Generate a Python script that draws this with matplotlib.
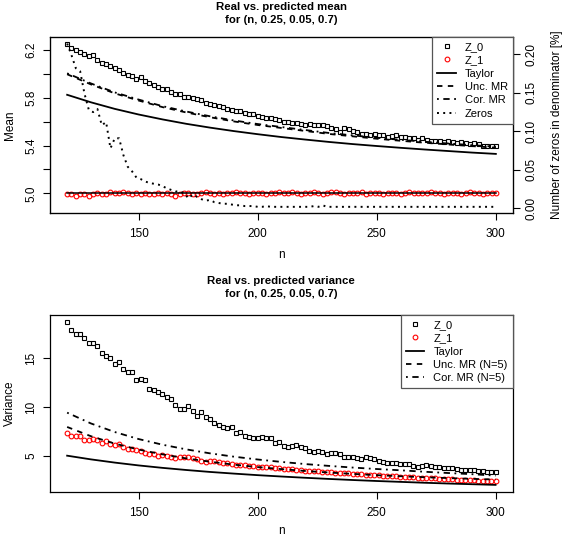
import matplotlib
matplotlib.use("Agg")
import matplotlib.pyplot as plt
import numpy as np

plt.rcParams['font.family'] = ['Liberation Sans', 'DejaVu Sans']

# x grid of the simulated points (100 values of n between 120 and 300)
n_pts = np.linspace(120, 300, 100)
# x grid of the smooth predicted curves
n_line = [120, 130, 140, 150, 160, 170, 180, 190, 200, 210,
          220, 230, 240, 250, 260, 270, 280, 290, 300]

# ---- top panel: mean ----
mean_z0 = [6.25, 6.22, 6.20, 6.18, 6.17, 6.15, 6.16, 6.12, 6.09, 6.08,
           6.07, 6.05, 6.03, 6.01, 5.99, 5.98, 5.96, 5.97, 5.94, 5.92,
           5.91, 5.89, 5.87, 5.87, 5.85, 5.83, 5.83, 5.81, 5.81, 5.80,
           5.79, 5.78, 5.76, 5.75, 5.74, 5.73, 5.72, 5.71, 5.70, 5.69,
           5.69, 5.67, 5.66, 5.66, 5.65, 5.64, 5.63, 5.63, 5.62, 5.61,
           5.60, 5.60, 5.59, 5.59, 5.58, 5.57, 5.58, 5.57, 5.57, 5.57,
           5.56, 5.55, 5.54, 5.51, 5.55, 5.54, 5.52, 5.51, 5.50, 5.50,
           5.49, 5.50, 5.49, 5.49, 5.47, 5.48, 5.49, 5.47, 5.47, 5.46,
           5.46, 5.45, 5.46, 5.45, 5.44, 5.44, 5.44, 5.43, 5.44, 5.43,
           5.42, 5.43, 5.42, 5.41, 5.42, 5.41, 5.40, 5.40, 5.40, 5.40]
mean_z1 = [4.99, 4.99, 4.98, 4.99, 4.99, 4.98, 4.99, 5.00, 4.99, 4.99,
           5.01, 5.00, 5.00, 5.01, 5.00, 4.99, 5.00, 4.99, 5.00, 4.99,
           4.99, 5.00, 4.99, 5.00, 4.99, 4.98, 4.99, 5.00, 5.00, 4.99,
           4.99, 5.00, 5.01, 5.00, 4.99, 5.00, 4.99, 5.00, 5.00, 5.01,
           5.00, 5.00, 4.99, 5.00, 5.00, 5.00, 4.99, 5.00, 5.00, 5.01,
           5.00, 5.00, 5.01, 5.00, 4.99, 5.00, 5.00, 5.01, 5.00, 4.99,
           5.00, 5.01, 5.01, 5.00, 4.99, 5.00, 5.00, 5.00, 5.01, 4.99,
           5.00, 5.00, 5.00, 4.99, 5.00, 5.00, 5.00, 4.99, 5.00, 5.01,
           5.00, 5.00, 5.00, 5.00, 5.01, 5.00, 5.00, 4.99, 5.00, 5.00,
           5.00, 4.99, 5.00, 5.01, 5.00, 5.00, 4.99, 5.00, 5.00, 5.00]
mean_taylor = [5.825, 5.762, 5.707, 5.660, 5.619, 5.582, 5.550, 5.521, 5.495, 5.471,
               5.450, 5.430, 5.412, 5.396, 5.381, 5.367, 5.354, 5.341, 5.330]
mean_unc = [5.997, 5.912, 5.837, 5.777, 5.722, 5.677, 5.637, 5.602, 5.572, 5.547,
            5.522, 5.497, 5.477, 5.457, 5.440, 5.424, 5.409, 5.395, 5.382]
mean_cor = [6.005, 5.920, 5.845, 5.785, 5.730, 5.685, 5.645, 5.610, 5.580, 5.555,
            5.530, 5.505, 5.485, 5.465, 5.448, 5.432, 5.417, 5.403, 5.390]
mean_z1_pred = [5.0] * len(n_line)
zeros_pct = [0.214, 0.199, 0.182, 0.178, 0.149, 0.128, 0.125, 0.129, 0.108, 0.112,
             0.078, 0.091, 0.091, 0.069, 0.054, 0.048, 0.040, 0.038, 0.035, 0.033,
             0.032, 0.031, 0.029, 0.026, 0.024, 0.022, 0.022, 0.020, 0.013, 0.018,
             0.015, 0.012, 0.010, 0.011, 0.008, 0.007, 0.006, 0.006, 0.005, 0.004,
             0.004, 0.003, 0.003, 0.003, 0.002, 0.002, 0.003, 0.002, 0.002, 0.002,
             0.002, 0.002, 0.002, 0.002, 0.002, 0.002, 0.002, 0.003, 0.002, 0.004,
             0.002, 0.002, 0.002, 0.002, 0.002, 0.002, 0.002, 0.002, 0.002, 0.002,
             0.002, 0.002, 0.002, 0.002, 0.002, 0.002, 0.002, 0.002, 0.002, 0.002,
             0.002, 0.002, 0.002, 0.002, 0.002, 0.002, 0.002, 0.002, 0.002, 0.002,
             0.002, 0.002, 0.002, 0.002, 0.002, 0.002, 0.002, 0.002, 0.002, 0.002]

# ---- bottom panel: variance ----
var_z0 = [18.76, 17.90, 17.50, 17.50, 17.05, 16.60, 16.60, 16.30, 15.50, 15.27,
          15.06, 14.40, 14.60, 13.90, 13.56, 13.56, 12.77, 12.87, 12.77, 11.90,
          11.75, 11.50, 11.30, 11.06, 10.80, 10.20, 9.76, 9.83, 10.13, 9.59,
          9.08, 9.52, 9.00, 8.74, 8.33, 8.15, 7.98, 7.81, 7.98, 7.36,
          7.43, 6.99, 6.95, 6.79, 6.85, 6.95, 6.79, 6.79, 6.27, 6.44,
          6.00, 5.93, 6.00, 6.10, 5.93, 5.76, 5.52, 5.41, 5.44, 5.41,
          5.17, 5.28, 5.24, 5.17, 4.90, 4.83, 4.90, 4.73, 4.63, 4.90,
          4.73, 4.63, 4.49, 4.38, 4.28, 4.22, 4.22, 4.15, 4.15, 4.15,
          3.94, 3.87, 3.94, 4.04, 3.95, 3.85, 3.80, 3.75, 3.70, 3.72,
          3.62, 3.58, 3.55, 3.50, 3.48, 3.42, 3.45, 3.35, 3.30, 3.30]
var_z1 = [7.30, 7.02, 7.00, 7.02, 6.62, 6.66, 6.70, 6.62, 6.27, 6.55,
          6.17, 6.10, 6.17, 5.93, 5.66, 5.66, 5.60, 5.52, 5.24, 5.20,
          5.17, 4.97, 5.10, 4.97, 4.83, 4.80, 4.90, 4.88, 4.85, 4.73,
          4.70, 4.49, 4.40, 4.45, 4.49, 4.30, 4.22, 4.20, 4.15, 4.05,
          4.05, 4.02, 3.98, 3.95, 3.87, 3.87, 3.85, 3.80, 3.78, 3.70,
          3.68, 3.63, 3.63, 3.53, 3.50, 3.45, 3.42, 3.40, 3.38, 3.33,
          3.30, 3.28, 3.25, 3.22, 3.18, 3.18, 3.12, 3.10, 3.08, 3.05,
          3.02, 3.00, 2.98, 2.95, 2.93, 2.90, 2.90, 2.85, 2.83, 2.80,
          2.80, 2.75, 2.73, 2.72, 2.68, 2.66, 2.65, 2.62, 2.60, 2.58,
          2.55, 2.55, 2.52, 2.50, 2.48, 2.45, 2.45, 2.40, 2.38, 2.35]
var_taylor = [5.00, 4.62, 4.29, 4.00, 3.75, 3.53, 3.33, 3.16, 3.00, 2.86,
              2.73, 2.61, 2.50, 2.40, 2.31, 2.22, 2.14, 2.07, 2.00]
var_unc = [7.95, 7.00, 6.24, 5.63, 5.14, 4.72, 4.38, 4.08, 3.83, 3.62,
           3.43, 3.27, 3.13, 3.00, 2.89, 2.79, 2.70, 2.62, 2.55]
var_cor = [9.42, 8.31, 7.43, 6.71, 6.13, 5.65, 5.24, 4.90, 4.61, 4.36,
           4.14, 3.95, 3.78, 3.63, 3.50, 3.35, 3.22, 3.10, 2.95]

DASHED = (3, 3)
DASHDOT = (1, 2.5, 3.5, 2.5)
DOTTED = (1, 2.2)
FS = 8.5


def style_axes(ax):
    ax.tick_params(direction='out', length=5, width=0.8, labelsize=FS)
    ax.tick_params(axis='x', pad=6)
    ax.tick_params(axis='y', labelrotation=90, pad=4)
    for lab in ax.get_yticklabels():
        lab.set_va('center')
    for sp in ax.spines.values():
        sp.set_linewidth(0.9)
    ax.set_xlim(112.8, 307.2)
    ax.set_xticks([150, 200, 250, 300])


def make_legend(ax, handles):
    leg = ax.legend(handles=handles, loc='upper right', fontsize=8,
                    frameon=True, fancybox=False, edgecolor='#555555', borderaxespad=0,
                    handlelength=1.7, handletextpad=0.8, labelspacing=0.3, borderpad=0.45,
                    framealpha=1)
    leg.get_frame().set_linewidth(0.9)
    return leg


fig = plt.figure(figsize=(5.66, 5.37), dpi=100)
ax1 = fig.add_axes([50 / 566, 1 - 213 / 537, 463 / 566, 176 / 537])
ax2 = fig.add_axes([50 / 566, 1 - 491.7 / 537, 462.7 / 566, 176.7 / 537])

mk = dict(ls='none', ms=3.4, mfc='none', mew=0.8)

# top panel
h0, = ax1.plot(n_pts, mean_z0, marker='s', mec='black', label='Z_0', **mk)
h1, = ax1.plot(n_pts, mean_z1, marker='o', mec='red', label='Z_1', **mk)
ht, = ax1.plot(n_line, mean_taylor, color='black', lw=1.3, label='Taylor')
hu, = ax1.plot(n_line, mean_unc, color='black', lw=1.3, dashes=DASHED, label='Unc. MR')
hc, = ax1.plot(n_line, mean_cor, color='black', lw=1.3, dashes=DASHDOT, label='Cor. MR')
ax1.plot(n_line, mean_z1_pred, color='black', lw=1.1)
ax1.set_ylim(4.835, 6.309)
ax1.set_yticks([5.0, 5.2, 5.4, 5.6, 5.8, 6.0, 6.2])
ax1.set_yticklabels(['5.0', '', '5.4', '', '5.8', '', '6.2'])
style_axes(ax1)
ax1.set_ylabel('Mean', fontsize=FS, labelpad=7)
ax1.set_xlabel('n', fontsize=FS, labelpad=6)
ax1.set_title('Real vs. predicted mean\nfor (n, 0.25, 0.05, 0.7)', fontsize=8.2,
              fontweight='bold', pad=10, linespacing=1.35)

ax1r = ax1.twinx()
hz, = ax1r.plot(n_pts, zeros_pct, color='black', lw=1.4, dashes=DOTTED, label='Zeros')
ax1r.set_ylim(-0.006, 0.2225)
ax1r.set_yticks([0.0, 0.05, 0.10, 0.15, 0.20])
ax1r.set_yticklabels(['0.00', '0.05', '0.10', '0.15', '0.20'])
ax1r.tick_params(direction='out', length=5, width=0.8, labelsize=FS, pad=4)
ax1r.tick_params(axis='y', labelrotation=90)
for lab in ax1r.get_yticklabels():
    lab.set_va('center')
ax1r.set_ylabel('Number of zeros in denominator [%]', fontsize=FS, labelpad=10)

make_legend(ax1r, [h0, h1, ht, hu, hc, hz])

# bottom panel
g0, = ax2.plot(n_pts, var_z0, marker='s', mec='black', label='Z_0', **mk)
g1, = ax2.plot(n_pts, var_z1, marker='o', mec='red', label='Z_1', **mk)
gt, = ax2.plot(n_line, var_taylor, color='black', lw=1.3, label='Taylor')
gu, = ax2.plot(n_line, var_unc, color='black', lw=1.3, dashes=DASHED, label='Unc. MR (N=5)')
gc, = ax2.plot(n_line, var_cor, color='black', lw=1.3, dashes=DASHDOT, label='Cor. MR (N=5)')
ax2.set_ylim(1.30, 19.45)
ax2.set_yticks([5, 10, 15])
style_axes(ax2)
ax2.set_ylabel('Variance', fontsize=FS, labelpad=7)
ax2.set_xlabel('n', fontsize=FS, labelpad=4)
ax2.set_title('Real vs. predicted variance\nfor (n, 0.25, 0.05, 0.7)', fontsize=8.2,
              fontweight='bold', pad=13, linespacing=1.35)
make_legend(ax2, [g0, g1, gt, gu, gc])

fig.savefig('out.png', dpi=100)
